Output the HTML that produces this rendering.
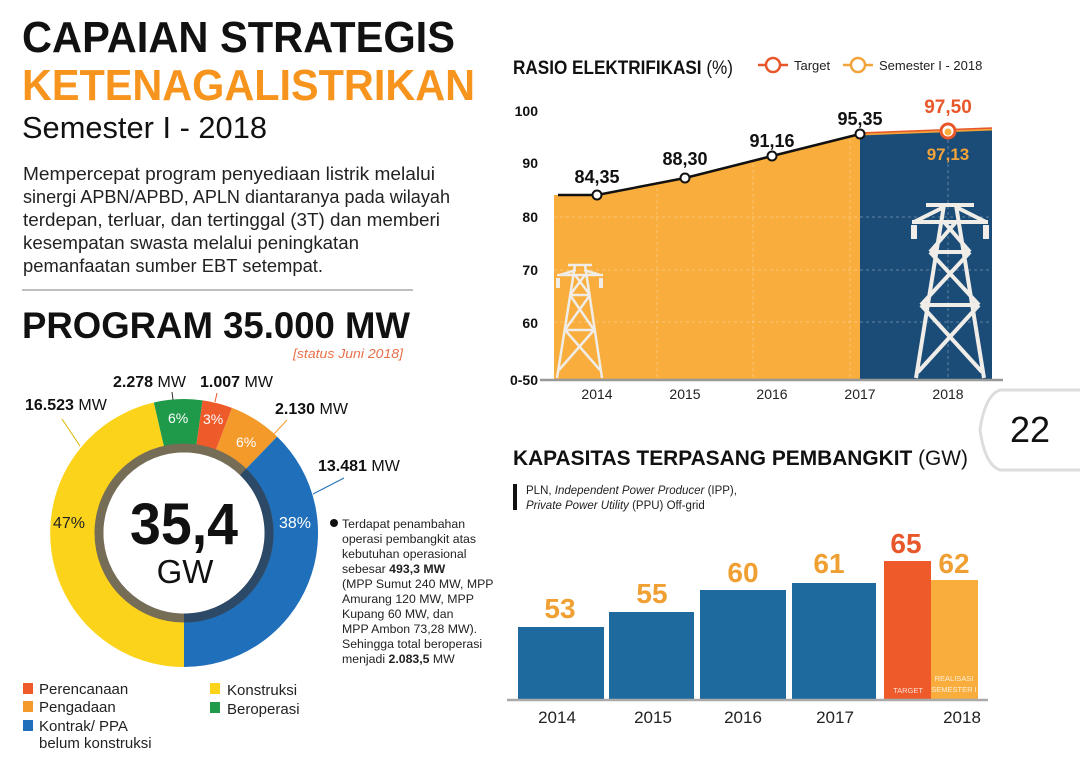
<!DOCTYPE html>
<html><head><meta charset="utf-8"><style>
html,body{margin:0;padding:0;background:#fff;}
svg{display:block;font-family:"Liberation Sans",sans-serif;}
</style></head><body>
<svg width="1080" height="760" viewBox="0 0 1080 760" xmlns="http://www.w3.org/2000/svg">
<rect width="1080" height="760" fill="#fff"/>
<!-- LEFT HEADER -->
<text x="22" y="52" font-size="44" font-weight="bold" fill="#111" textLength="433" lengthAdjust="spacingAndGlyphs">CAPAIAN STRATEGIS</text>
<text x="22" y="100" font-size="44" font-weight="bold" fill="#f7941d" textLength="453" lengthAdjust="spacingAndGlyphs">KETENAGALISTRIKAN</text>
<text x="22" y="138" font-size="31" fill="#111" textLength="245" lengthAdjust="spacingAndGlyphs">Semester I - 2018</text>
<g font-size="18" fill="#222">
<text x="23" y="180" textLength="412" lengthAdjust="spacingAndGlyphs">Mempercepat program penyediaan listrik melalui</text>
<text x="23" y="203" textLength="427" lengthAdjust="spacingAndGlyphs">sinergi APBN/APBD, APLN diantaranya pada wilayah</text>
<text x="23" y="226" textLength="417" lengthAdjust="spacingAndGlyphs">terdepan, terluar, dan tertinggal (3T) dan memberi</text>
<text x="23" y="249" textLength="336" lengthAdjust="spacingAndGlyphs">kesempatan swasta melalui peningkatan</text>
<text x="23" y="272" textLength="300" lengthAdjust="spacingAndGlyphs">pemanfaatan sumber EBT setempat.</text>
</g>
<line x1="22" y1="290" x2="413" y2="290" stroke="#999" stroke-width="1.2"/>
<text x="22" y="338" font-size="37" font-weight="bold" fill="#111" textLength="388" lengthAdjust="spacingAndGlyphs">PROGRAM 35.000 MW</text>
<text x="293" y="358" font-size="13" font-style="italic" fill="#e8704a" textLength="110" lengthAdjust="spacingAndGlyphs">[status Juni 2018]</text>

<!-- DONUT -->
<g fill="none" stroke-width="45">
<path d="M184 644.5 A111.5 111.5 0 0 1 158.9 424.4" stroke="#fbd31b"/>
<path d="M158.9 424.4 A111.5 111.5 0 0 1 199.5 422.6" stroke="#1f9a4a"/>
<path d="M199.5 422.6 A111.5 111.5 0 0 1 224 428.9" stroke="#ee5a2a"/>
<path d="M224 428.9 A111.5 111.5 0 0 1 261.5 452.8" stroke="#f39a2b"/>
<path d="M261.5 452.8 A111.5 111.5 0 0 1 184 644.5" stroke="#1f6fba"/>
</g>
<circle cx="184" cy="533" r="85" fill="none" stroke="#766d57" stroke-width="9"/>
<path d="M243.1 471.9 A85 85 0 0 1 184 618" fill="none" stroke="#2c4a68" stroke-width="9"/>
<circle cx="184" cy="533" r="80.5" fill="#fff"/>
<text x="184" y="544" font-size="58" font-weight="bold" text-anchor="middle" fill="#111" textLength="108" lengthAdjust="spacingAndGlyphs">35,4</text>
<text x="185" y="583" font-size="33" text-anchor="middle" fill="#111">GW</text>
<g font-size="16" fill="#222">
<text x="53" y="528">47%</text>
<text x="279" y="528" fill="#fff">38%</text>
<text x="168" y="423" fill="#fff" font-size="14">6%</text>
<text x="203" y="424" fill="#fff" font-size="14">3%</text>
<text x="236" y="447" fill="#fff" font-size="14">6%</text>
</g>
<g stroke-width="1" fill="none">
<line x1="62" y1="419" x2="80" y2="446" stroke="#d9b400"/>
<line x1="172" y1="392" x2="173" y2="400" stroke="#333"/>
<line x1="217" y1="393" x2="215" y2="402" stroke="#ee5a2a"/>
<line x1="287" y1="420" x2="274" y2="434" stroke="#f39a2b"/>
<line x1="344" y1="478" x2="313" y2="494" stroke="#1f6fba"/>
</g>
<g font-size="16" fill="#111">
<text x="25" y="410"><tspan font-weight="bold">16.523</tspan> MW</text>
<text x="113" y="387"><tspan font-weight="bold">2.278</tspan> MW</text>
<text x="200" y="387"><tspan font-weight="bold">1.007</tspan> MW</text>
<text x="275" y="414"><tspan font-weight="bold">2.130</tspan> MW</text>
<text x="318" y="471"><tspan font-weight="bold">13.481</tspan> MW</text>
</g>
<circle cx="334" cy="523" r="4" fill="#111"/>
<g font-size="12.3" fill="#222">
<text x="342" y="528">Terdapat penambahan</text>
<text x="342" y="543">operasi pembangkit atas</text>
<text x="342" y="558">kebutuhan operasional</text>
<text x="342" y="573">sebesar <tspan font-weight="bold">493,3 MW</tspan></text>
<text x="342" y="588">(MPP Sumut 240 MW, MPP</text>
<text x="342" y="603">Amurang 120 MW, MPP</text>
<text x="342" y="618">Kupang 60 MW, dan</text>
<text x="342" y="633">MPP Ambon 73,28 MW).</text>
<text x="342" y="648">Sehingga total beroperasi</text>
<text x="342" y="663">menjadi <tspan font-weight="bold">2.083,5</tspan> MW</text>
</g>
<!-- legend -->
<rect x="23" y="683" width="10" height="11" fill="#ee5a2a"/>
<rect x="23" y="701" width="10" height="11" fill="#f39a2b"/>
<rect x="23" y="720" width="10" height="11" fill="#1f6fba"/>
<rect x="210" y="683" width="10" height="11" fill="#fbd31b"/>
<rect x="210" y="702" width="10" height="11" fill="#1f9a4a"/>
<g font-size="15" fill="#222">
<text x="39" y="694">Perencanaan</text>
<text x="39" y="712">Pengadaan</text>
<text x="39" y="731">Kontrak/ PPA</text>
<text x="39" y="748">belum konstruksi</text>
<text x="227" y="695">Konstruksi</text>
<text x="227" y="714">Beroperasi</text>
</g>

<!-- RASIO ELEKTRIFIKASI -->
<text x="513" y="74" font-size="19" font-weight="bold" fill="#111" textLength="220" lengthAdjust="spacingAndGlyphs">RASIO ELEKTRIFIKASI <tspan font-weight="normal">(%)</tspan></text>
<line x1="758" y1="65" x2="788" y2="65" stroke="#e8572a" stroke-width="2.5"/>
<circle cx="773" cy="65" r="7" fill="#fff" stroke="#e8572a" stroke-width="2.5"/>
<text x="794" y="70" font-size="13" fill="#222">Target</text>
<line x1="843" y1="65" x2="873" y2="65" stroke="#f2a33a" stroke-width="2.5"/>
<circle cx="858" cy="65" r="7" fill="#fff" stroke="#f2a33a" stroke-width="2.5"/>
<text x="879" y="70" font-size="13" fill="#222">Semester I - 2018</text>
<g font-size="14" font-weight="bold" fill="#111" text-anchor="end">
<text x="538" y="116">100</text>
<text x="538" y="168">90</text>
<text x="538" y="222">80</text>
<text x="538" y="275">70</text>
<text x="538" y="328">60</text>
<text x="538" y="385">0-50</text>
</g>
<path d="M554 195 L597 195 L685 178 L772 156 L860 134 L860 380 L554 380 Z" fill="#f8ad3c"/>
<path d="M860 134 L992 129 L992 380 L860 380 Z" fill="#1b4c77"/>
<path d="M860 134 L992 129" stroke="#f2a33a" stroke-width="3" fill="none"/>
<path d="M860 133 L992 128" stroke="#e8572a" stroke-width="1.5" fill="none"/>
<g stroke="#ffffff" stroke-opacity="0.3" stroke-dasharray="3 3" stroke-width="1">
<line x1="657" y1="110" x2="657" y2="378"/><line x1="753" y1="110" x2="753" y2="378"/>
<line x1="850" y1="110" x2="850" y2="378"/><line x1="948" y1="110" x2="948" y2="378"/>
<line x1="554" y1="217" x2="992" y2="217"/><line x1="554" y1="270" x2="992" y2="270"/><line x1="554" y1="322" x2="992" y2="322"/>
</g>
<line x1="540" y1="380" x2="1003" y2="380" stroke="#999" stroke-width="2.5"/>
<path d="M558 195 L597 195 L685 178 L772 156 L860 134" stroke="#111" stroke-width="2.5" fill="none"/>
<g fill="#fff" stroke="#111" stroke-width="2">
<circle cx="597" cy="195" r="4.5"/><circle cx="685" cy="178" r="4.5"/><circle cx="772" cy="156" r="4.5"/><circle cx="860" cy="134" r="4.5"/>
</g>
<circle cx="948" cy="131" r="7" fill="#fff" stroke="#e8572a" stroke-width="3"/>
<circle cx="948" cy="132" r="3.5" fill="#f8ad3c"/>
<g font-size="18" font-weight="bold" fill="#111" text-anchor="middle">
<text x="597" y="183">84,35</text><text x="685" y="165">88,30</text><text x="772" y="147">91,16</text><text x="860" y="125">95,35</text>
<text x="948" y="113" fill="#e8572a" font-size="19">97,50</text>
<text x="948" y="160" fill="#f2a33a" font-size="17">97,13</text>
</g>
<g font-size="14" fill="#222" text-anchor="middle">
<text x="597" y="399">2014</text><text x="685" y="399">2015</text><text x="772" y="399">2016</text><text x="860" y="399">2017</text><text x="948" y="399">2018</text>
</g>
<!-- towers -->
<g stroke="#f0ede8" stroke-width="2.5" fill="none">
<path d="M557 378 L575 265 L585 265 L602 378 M557 275 L603 275 M568 265 L592 265 M560 275 L576 270 M600 275 L584 270 M570 295 L590 295 M565 330 L594 330 M570 295 L594 330 M590 295 L565 330 M565 330 L600 370 M594 330 L559 370 M575 275 L590 295 M585 275 L570 295"/>
<path d="M558 278 v10 M601 278 v10" stroke-width="4"/>
</g>
<g stroke="#f0ede8" stroke-width="4" fill="none">
<path d="M916 378 L944 205 L956 205 L984 378 M912 222 L988 222 M926 205 L974 205 M914 222 L944 207 M986 222 L956 207 M930 252 L970 252 M921 305 L979 305 M930 252 L979 305 M970 252 L921 305 M921 305 L982 372 M979 305 L918 372 M944 222 L970 252 M956 222 L930 252"/>
<path d="M914 225 v14 M986 225 v14" stroke-width="6"/>
</g>

<!-- page tab -->
<path d="M1080 390 L1000 390 Q985 395 980 430 Q985 465 1000 470 L1080 470" fill="#fff" stroke="#ddd" stroke-width="3"/>
<text x="1030" y="442" font-size="36" text-anchor="middle" fill="#111">22</text>

<!-- KAPASITAS -->
<text x="513" y="465" font-size="21" font-weight="bold" fill="#111" textLength="455" lengthAdjust="spacingAndGlyphs">KAPASITAS TERPASANG PEMBANGKIT <tspan font-weight="normal">(GW)</tspan></text>
<rect x="513" y="484" width="4" height="26" fill="#111"/>
<text x="526" y="494" font-size="11.5" fill="#222">PLN, <tspan font-style="italic">Independent Power Producer</tspan> (IPP),</text>
<text x="526" y="509" font-size="11.5" fill="#222"><tspan font-style="italic">Private Power Utility</tspan> (PPU) Off-grid</text>
<g fill="#1e6a9e">
<rect x="518" y="627" width="86" height="72"/>
<rect x="609" y="612" width="85" height="87"/>
<rect x="700" y="590" width="86" height="109"/>
<rect x="792" y="583" width="84" height="116"/>
</g>
<rect x="884" y="561" width="47" height="138" fill="#ee5a2a"/>
<rect x="931" y="580" width="47" height="119" fill="#f8ad3c"/>
<line x1="507" y1="700" x2="988" y2="700" stroke="#aaa" stroke-width="2.5"/>
<g font-size="28" font-weight="bold" fill="#f0a032" text-anchor="middle">
<text x="560" y="618">53</text><text x="652" y="603">55</text><text x="743" y="582">60</text><text x="829" y="573">61</text>
<text x="906" y="553" fill="#e8572a">65</text><text x="954" y="573">62</text>
</g>
<g font-size="7.5" fill="#fff" fill-opacity="0.8" text-anchor="middle">
<text x="908" y="693">TARGET</text><text x="954" y="681">REALISASI</text><text x="954" y="692">SEMESTER I</text>
</g>
<g font-size="17" fill="#222" text-anchor="middle">
<text x="557" y="723">2014</text><text x="653" y="723">2015</text><text x="743" y="723">2016</text><text x="835" y="723">2017</text><text x="962" y="723">2018</text>
</g>
</svg>
</body></html>
